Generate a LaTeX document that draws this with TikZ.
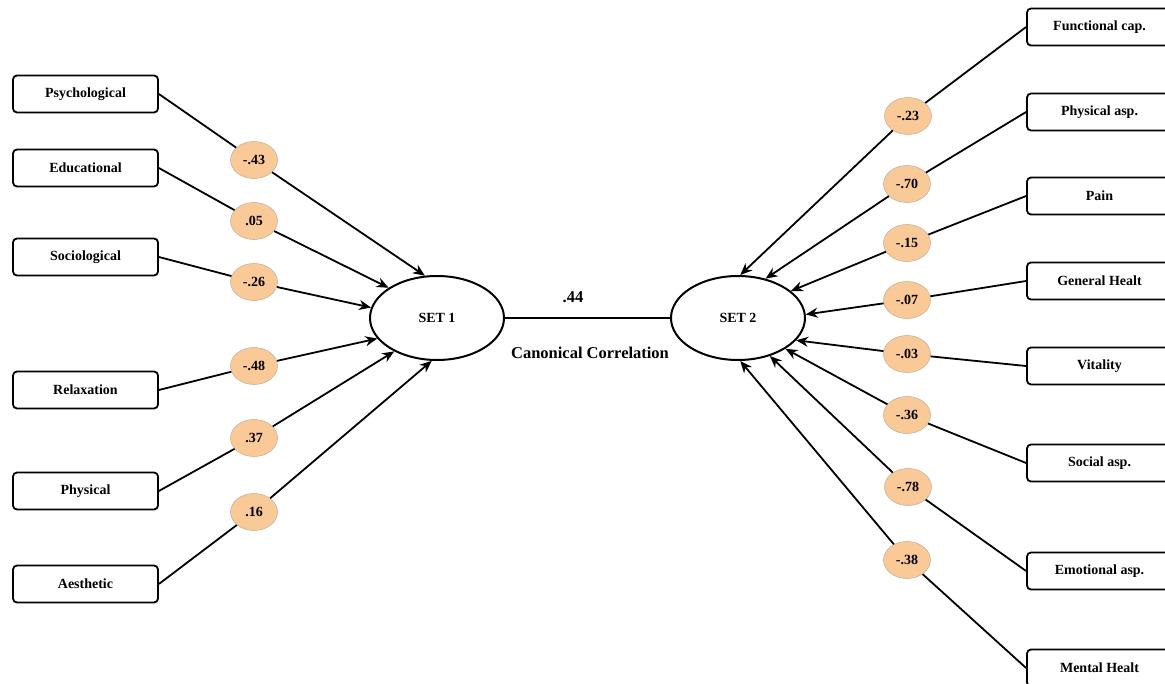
\documentclass[tikz,border=0pt]{standalone}
\usepackage{fontspec}
\setmainfont{Liberation Serif}
\usetikzlibrary{shapes.geometric, arrows.meta, positioning}
\definecolor{weightfill}{RGB}{250,201,152}
\definecolor{weightborder}{RGB}{200,178,156}
\tikzset{
  varbox/.style={
    rectangle, rounded corners=4pt,
    fill=white, draw=black, line width=1.8pt,
    minimum width=145pt, minimum height=37pt, inner sep=0pt,
    font=\fontsize{14}{16}\selectfont\bfseries},
  setnode/.style={
    ellipse, fill=white, draw=black, line width=2pt,
    minimum width=134pt, minimum height=84pt, inner sep=0pt,
    font=\fontsize{14}{16}\selectfont\bfseries},
  weight/.style={
    ellipse, fill=weightfill, draw=weightborder, line width=0.6pt,
    minimum width=47pt, minimum height=37pt, inner sep=0pt,
    font=\fontsize{14}{16}\selectfont\bfseries},
  corrtext/.style={font=\fontsize{16.5}{19}\selectfont\bfseries},
  link/.style={line width=1.8pt, color=black},
  arrow/.style={-{Stealth[length=12pt, width=10pt]}, line width=1.8pt,
                color=black}
}

\begin{document}
\begin{tikzpicture}[x=1pt, y=-1pt]
  \useasboundingbox (0,0) rectangle (1165,684);

  %% Latent sets
  \node[setnode] (set1) at (437,318) {SET 1};
  \node[setnode] (set2) at (738,318) {SET 2};

  %% Canonical correlation
  \draw[link] (set1.east) -- (set2.west);
  \node[corrtext] (rval) at (573,297) {.44};
  \node[corrtext] (corrlabel) at (590,353) {Canonical Correlation};

  %% Set 1: variables
  \node[varbox] (psych) at (85.5,94)  {Psychological};
  \node[varbox] (educ)  at (85.5,168) {Educational};
  \node[varbox] (socio) at (85.5,257) {Sociological};
  \node[varbox] (relax) at (85.5,390) {Relaxation};
  \node[varbox] (phys)  at (85.5,491) {Physical};
  \node[varbox] (aesth) at (85.5,584) {Aesthetic};

  %% Set 1: weights
  \node[weight] (wpsych) at (254,160) {-.43};
  \node[weight] (weduc)  at (254,221) {.05};
  \node[weight] (wsocio) at (254,282) {-.26};
  \node[weight] (wrelax) at (254,366) {-.48};
  \node[weight] (wphys)  at (254,438) {.37};
  \node[weight] (waesth) at (254,512) {.16};

  %% Set 2: variables
  \node[varbox] (func)  at (1099.5,27)  {Functional cap.};
  \node[varbox] (physa) at (1099.5,112) {Physical asp.};
  \node[varbox] (pain)  at (1099.5,196) {Pain};
  \node[varbox] (genh)  at (1099.5,281) {General Healt};
  \node[varbox] (vital) at (1099.5,366) {Vitality};
  \node[varbox] (soca)  at (1099.5,463) {Social asp.};
  \node[varbox] (emoa)  at (1099.5,571) {Emotional asp.};
  \node[varbox] (menh)  at (1099.5,668) {Mental Healt};

  %% Set 2: weights
  \node[weight] (wfunc)  at (908,116) {-.23};
  \node[weight] (wphysa) at (907,184) {-.70};
  \node[weight] (wpain)  at (907,243) {-.15};
  \node[weight] (wgenh)  at (907,300) {-.07};
  \node[weight] (wvital) at (907,354) {-.03};
  \node[weight] (wsoca)  at (907,415) {-.36};
  \node[weight] (wemoa)  at (908,487) {-.78};
  \node[weight] (wmenh)  at (907,560) {-.38};

  %% Arrows: set 1
  \draw[link]  (psych.east) -- (wpsych);
  \draw[arrow] (wpsych) -- (set1.106);
  \draw[link]  (educ.east)  -- (weduc);
  \draw[arrow] (weduc)  -- (set1.148);
  \draw[link]  (socio.east) -- (wsocio);
  \draw[arrow] (wsocio) -- (set1.171);
  \draw[link]  (relax.east) -- (wrelax);
  \draw[arrow] (wrelax) -- (set1.199);
  \draw[link]  (phys.east)  -- (wphys);
  \draw[arrow] (wphys)  -- (set1.218);
  \draw[link]  (aesth.east) -- (waesth);
  \draw[arrow] (waesth) -- (set1.263);

  %% Arrows: set 2
  \draw[link]  (func.west)  -- (wfunc);
  \draw[arrow] (wfunc)  -- (set2.87);
  \draw[link]  (physa.west) -- (wphysa);
  \draw[arrow] (wphysa) -- (set2.55);
  \draw[link]  (pain.west)  -- (wpain);
  \draw[arrow] (wpain)  -- (set2.27);
  \draw[link]  (genh.west)  -- (wgenh);
  \draw[arrow] (wgenh)  -- (set2.3);
  \draw[link]  (vital.west) -- (wvital);
  \draw[arrow] (wvital) -- (set2.339);
  \draw[link]  (soca.west)  -- (wsoca);
  \draw[arrow] (wsoca)  -- (set2.327);
  \draw[link]  (emoa.west)  -- (wemoa);
  \draw[arrow] (wemoa)  -- (set2.310);
  \draw[link]  (menh.west)  -- (wmenh);
  \draw[arrow] (wmenh)  -- (set2.273);

\end{tikzpicture}
\end{document}
